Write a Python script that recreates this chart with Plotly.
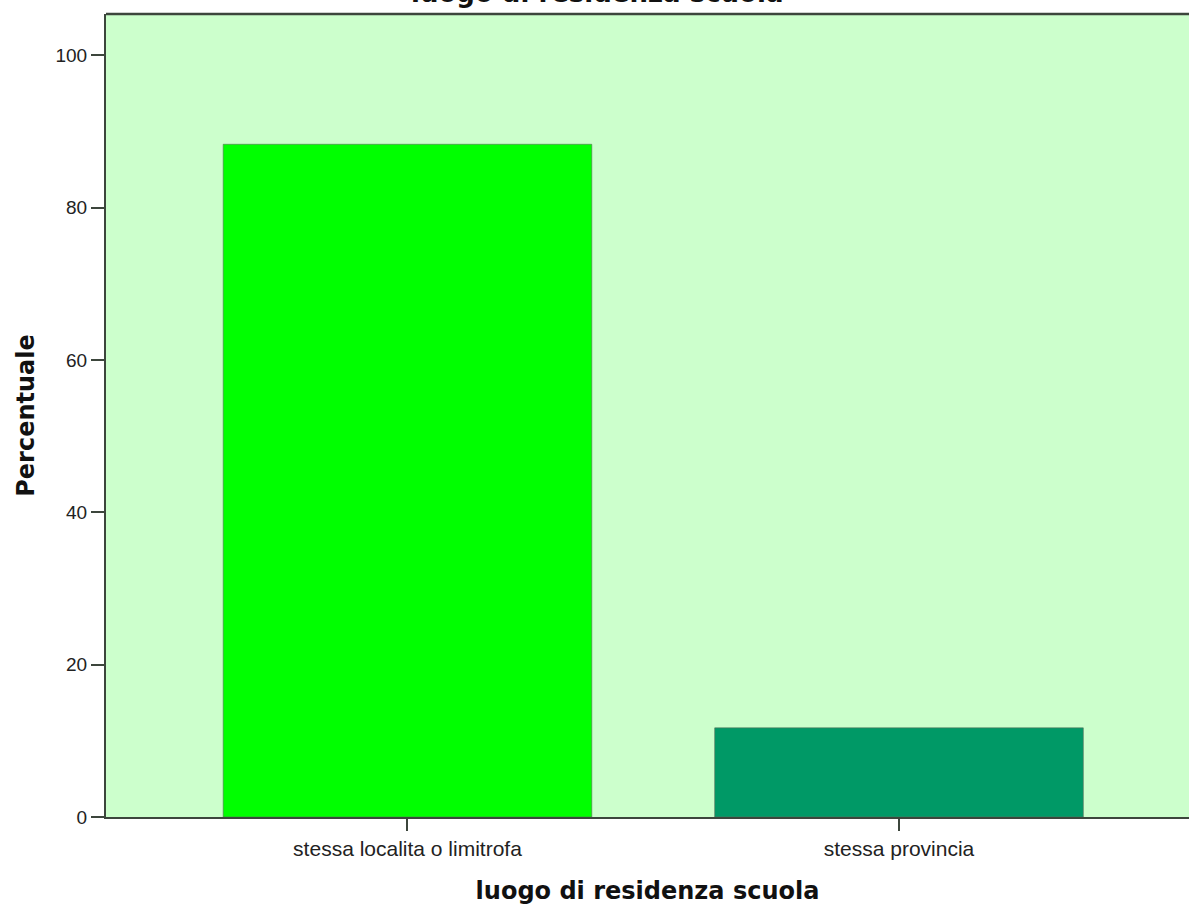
import plotly.graph_objects as go

categories = ["stessa localita o limitrofa", "stessa provincia"]
percentages = [88.3, 11.7]
bar_colors = ["#00ff00", "#009966"]
y_ticks = [0, 20, 40, 60, 80, 100]

title_text = "luogo di residenza scuola"
x_title = "luogo di residenza scuola"
y_title = "Percentuale"

fig = go.Figure()
fig.add_trace(go.Bar(
    x=[0, 1],
    y=percentages,
    width=0.75,
    marker=dict(color=bar_colors, line=dict(color="rgba(90,110,90,0.6)", width=1)),
    hoverinfo="skip",
))

axis_col = "#3c463c"
fig.update_layout(
    width=1189, height=905,
    margin=dict(l=106, r=0, t=14, b=88),
    paper_bgcolor="white",
    plot_bgcolor="#ccffcc",
    showlegend=False,
    bargap=0.25,
    xaxis=dict(
        range=[-0.6134, 1.590],
        tickmode="array", tickvals=[0, 1], ticktext=categories,
        ticks="outside", ticklen=12, tickwidth=2, tickcolor=axis_col,
        showline=True, linecolor=axis_col, linewidth=2,
        showgrid=False, zeroline=False,
        tickfont=dict(family="Liberation Sans, Arial", size=21, color="#222222"),
        title=dict(text=x_title, standoff=26,
                   font=dict(family="DejaVu Sans", size=24, color="#111111", weight="bold")),
    ),
    yaxis=dict(
        range=[0, 105.4],
        tickmode="array", tickvals=y_ticks,
        ticks="outside", ticklen=13, tickwidth=2, tickcolor=axis_col,
        showline=True, linecolor=axis_col, linewidth=2,
        showgrid=False, zeroline=False,
        tickfont=dict(family="Liberation Sans, Arial", size=19, color="#222222"),
        title=dict(text=y_title, standoff=14,
                   font=dict(family="DejaVu Sans", size=24, color="#111111", weight="bold")),
    ),
    shapes=[dict(type="line", xref="paper", yref="paper", x0=0, x1=1, y0=1, y1=1,
                 line=dict(color=axis_col, width=2.5))],
    annotations=[dict(text="<b>" + title_text + "</b>", xref="paper", yref="paper",
                      x=0.4534, y=1, xanchor="center", yanchor="bottom", yshift=4,
                      showarrow=False,
                      font=dict(family="DejaVu Sans", size=26, color="#111111"))],
)

fig.write_html(
    "out.html",
    config={"displayModeBar": False},
    post_script="document.body.style.margin='0';document.body.style.overflow='hidden';",
)
